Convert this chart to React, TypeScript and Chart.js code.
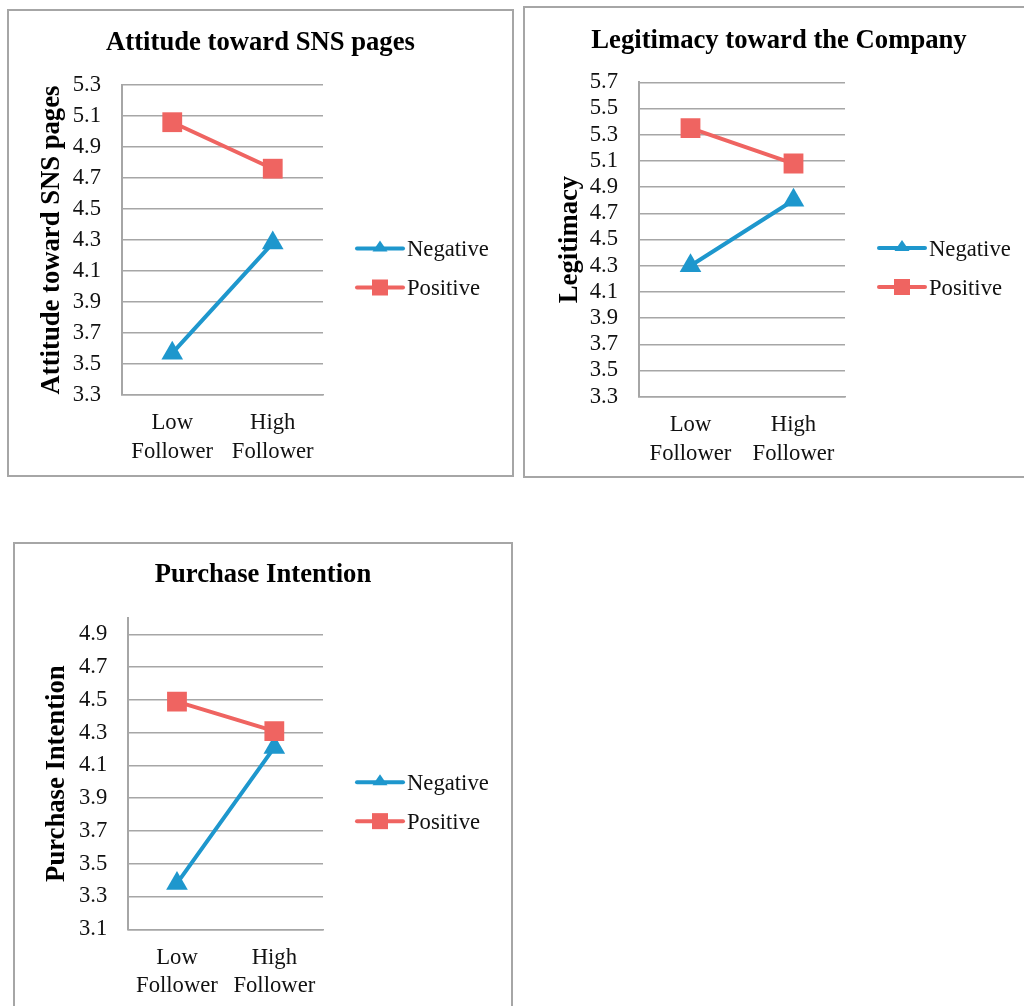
import React, { useEffect, useRef } from 'react';
import { Chart, registerables } from 'chart.js';

Chart.register(...registerables);

// ---------- data ----------
const categories = [['Low', 'Follower'], ['High', 'Follower']];
const seriesNames = ['Negative', 'Positive'];

const attitudeNegative = [3.57, 4.28];
const attitudePositive = [5.06, 4.76];
const attitudeTicks = [3.3, 3.5, 3.7, 3.9, 4.1, 4.3, 4.5, 4.7, 4.9, 5.1, 5.3];

const legitimacyNegative = [4.3, 4.8];
const legitimacyPositive = [5.35, 5.08];
const legitimacyTicks = [3.3, 3.5, 3.7, 3.9, 4.1, 4.3, 4.5, 4.7, 4.9, 5.1, 5.3, 5.5, 5.7];

const purchaseNegative = [3.38, 4.21];
const purchasePositive = [4.49, 4.31];
const purchaseTicks = [3.1, 3.3, 3.5, 3.7, 3.9, 4.1, 4.3, 4.5, 4.7, 4.9];
const purchaseAxisMax = 5.0;

// ---------- styles ----------
const FONT = "'Liberation Serif', 'Times New Roman', serif";
const TEXT = '#111111';
const GRID = '#a6a6a6';
const BLUE = '#1e97cd';
const RED = '#ef6461';

type Box = { left: number; top: number; width: number; height: number };
type Area = { left: number; top: number; right: number; bottom: number };
type Panel = {
  title: string;
  yTitle: string;
  negative: number[];
  positive: number[];
  ticks: number[];
  yMax: number;
  box: Box;
  area: Area;
  titleCenter: number;
  yTitleCenter: number;
};

const panels: Panel[] = [
  {
    title: 'Attitude toward SNS pages',
    yTitle: 'Attitude toward SNS pages',
    negative: attitudeNegative,
    positive: attitudePositive,
    ticks: attitudeTicks,
    yMax: attitudeTicks[attitudeTicks.length - 1],
    box: { left: 7, top: 9, width: 507, height: 468 },
    area: { left: 115, top: 76, right: 316, bottom: 386 },
    titleCenter: 34,
    yTitleCenter: 45,
  },
  {
    title: 'Legitimacy toward the Company',
    yTitle: 'Legitimacy',
    negative: legitimacyNegative,
    positive: legitimacyPositive,
    ticks: legitimacyTicks,
    yMax: legitimacyTicks[legitimacyTicks.length - 1],
    box: { left: 523, top: 6, width: 512, height: 472 },
    area: { left: 116, top: 76.3, right: 322, bottom: 390.7 },
    titleCenter: 35,
    yTitleCenter: 47,
  },
  {
    title: 'Purchase Intention',
    yTitle: 'Purchase Intention',
    negative: purchaseNegative,
    positive: purchasePositive,
    ticks: purchaseTicks,
    yMax: purchaseAxisMax,
    box: { left: 13, top: 542, width: 500, height: 480 },
    area: { left: 115.3, top: 76, right: 310, bottom: 387.3 },
    titleCenter: 33,
    yTitleCenter: 44,
  },
];

const TITLE_SIZE = 26.67;
const TEXT_SIZE = 22.67;
const TITLE_LH = 1.2;

const sideLegend = {
  id: 'sideLegend',
  afterDraw(chart: any) {
    const { ctx, chartArea } = chart;
    const x0 = chartArea.right + 34;
    const cy = (chartArea.top + chartArea.bottom) / 2 + 28;
    const gap = 39;
    const sets = chart.data.datasets;
    sets.forEach((ds: any, i: number) => {
      const y = cy + (i - (sets.length - 1) / 2) * gap;
      ctx.save();
      ctx.strokeStyle = ds.borderColor;
      ctx.lineWidth = 4;
      ctx.lineCap = 'round';
      ctx.beginPath();
      ctx.moveTo(x0, y);
      ctx.lineTo(x0 + 46, y);
      ctx.stroke();
      ctx.fillStyle = ds.borderColor;
      const mx = x0 + 23;
      if (ds.pointStyle === 'triangle') {
        ctx.beginPath();
        ctx.moveTo(mx, y - 8);
        ctx.lineTo(mx + 7.5, y + 3);
        ctx.lineTo(mx - 7.5, y + 3);
        ctx.closePath();
        ctx.fill();
      } else {
        ctx.fillRect(mx - 8, y - 8, 16, 16);
      }
      ctx.fillStyle = TEXT;
      ctx.font = `${TEXT_SIZE}px ${FONT}`;
      ctx.textBaseline = 'alphabetic';
      ctx.textAlign = 'left';
      ctx.fillText(ds.label, x0 + 50, y + 7.5);
      ctx.restore();
    });
  },
};

function ChartPanel({ p }: { p: Panel }) {
  const ref = useRef<HTMLCanvasElement | null>(null);
  useEffect(() => {
    if (!ref.current) return;
    const { box, area } = p;
    const titleLine = TITLE_SIZE * TITLE_LH;
    const titleTop = p.titleCenter - titleLine / 2;
    const titleBottom = area.top - titleTop - titleLine;
    const chart = new Chart(ref.current, {
      type: 'line',
      data: {
        labels: categories,
        datasets: [
          {
            label: seriesNames[0],
            data: p.negative,
            borderColor: BLUE,
            backgroundColor: BLUE,
            pointBackgroundColor: BLUE,
            pointBorderColor: BLUE,
            pointBorderWidth: 0,
            borderWidth: 4,
            borderCapStyle: 'round',
            pointStyle: 'triangle',
            pointRadius: 12.5,
            tension: 0,
            order: 1,
          },
          {
            label: seriesNames[1],
            data: p.positive,
            borderColor: RED,
            backgroundColor: RED,
            pointBackgroundColor: RED,
            pointBorderColor: RED,
            pointBorderWidth: 0,
            borderWidth: 4,
            borderCapStyle: 'round',
            pointStyle: 'rect',
            pointRadius: 14,
            tension: 0,
            order: 0,
          },
        ],
      },
      options: {
        responsive: false,
        animation: false,
        devicePixelRatio: 1,
        events: [],
        layout: { padding: 0 },
        plugins: {
          legend: { display: false },
          tooltip: { enabled: false },
          title: {
            display: true,
            text: p.title,
            color: '#000',
            font: { family: FONT, size: TITLE_SIZE, weight: 'bold', lineHeight: TITLE_LH },
            padding: { top: titleTop, bottom: titleBottom },
          },
        },
        scales: {
          x: {
            type: 'category',
            offset: true,
            grid: { display: false, drawTicks: false },
            border: { display: true, color: GRID, width: 1.5 },
            ticks: {
              color: TEXT,
              font: { family: FONT, size: TEXT_SIZE, lineHeight: 1.27 },
              padding: 14,
              maxRotation: 0,
              autoSkip: false,
            },
            afterFit: (s: any) => {
              s.height = box.height - area.bottom;
            },
          },
          y: {
            type: 'linear',
            position: 'left',
            min: p.ticks[0],
            max: p.yMax,
            afterBuildTicks: (s: any) => {
              s.ticks = p.ticks.map((v) => ({ value: v }));
            },
            grid: { display: true, color: GRID, lineWidth: 1.5, drawTicks: false },
            border: { display: true, color: GRID, width: 2 },
            ticks: {
              color: TEXT,
              font: { family: FONT, size: TEXT_SIZE },
              padding: 21,
              autoSkip: false,
              callback: (v: any) => Number(v).toFixed(1),
            },
            title: {
              display: true,
              text: p.yTitle,
              color: '#000',
              font: { family: FONT, size: TITLE_SIZE, weight: 'bold', lineHeight: TITLE_LH },
              padding: { top: p.yTitleCenter - titleLine / 2, bottom: 0 },
            },
            afterFit: (s: any) => {
              s.width = area.left;
            },
          },
          legendSpace: {
            type: 'linear',
            position: 'right',
            display: true,
            grid: { display: false, drawTicks: false },
            border: { display: false },
            ticks: { display: false },
            afterFit: (s: any) => {
              s.width = box.width - area.right;
            },
          },
        },
      } as any,
      plugins: [sideLegend],
    });
    return () => chart.destroy();
  }, [p]);

  const { box } = p;
  return (
    <>
      <div
        style={{
          position: 'absolute',
          left: box.left,
          top: box.top,
          width: box.width,
          height: box.height,
          border: `2px solid ${GRID}`,
          boxSizing: 'border-box',
          background: '#fff',
        }}
      />
      <canvas
        ref={ref}
        width={box.width}
        height={box.height}
        style={{ position: 'absolute', left: box.left, top: box.top, width: box.width, height: box.height }}
      />
    </>
  );
}

export default function App() {
  return (
    <div
      style={{
        position: 'absolute',
        left: 0,
        top: 0,
        width: 1024,
        height: 1006,
        overflow: 'hidden',
        background: '#fff',
      }}
    >
      {panels.map((p, i) => (
        <ChartPanel key={i} p={p} />
      ))}
    </div>
  );
}
